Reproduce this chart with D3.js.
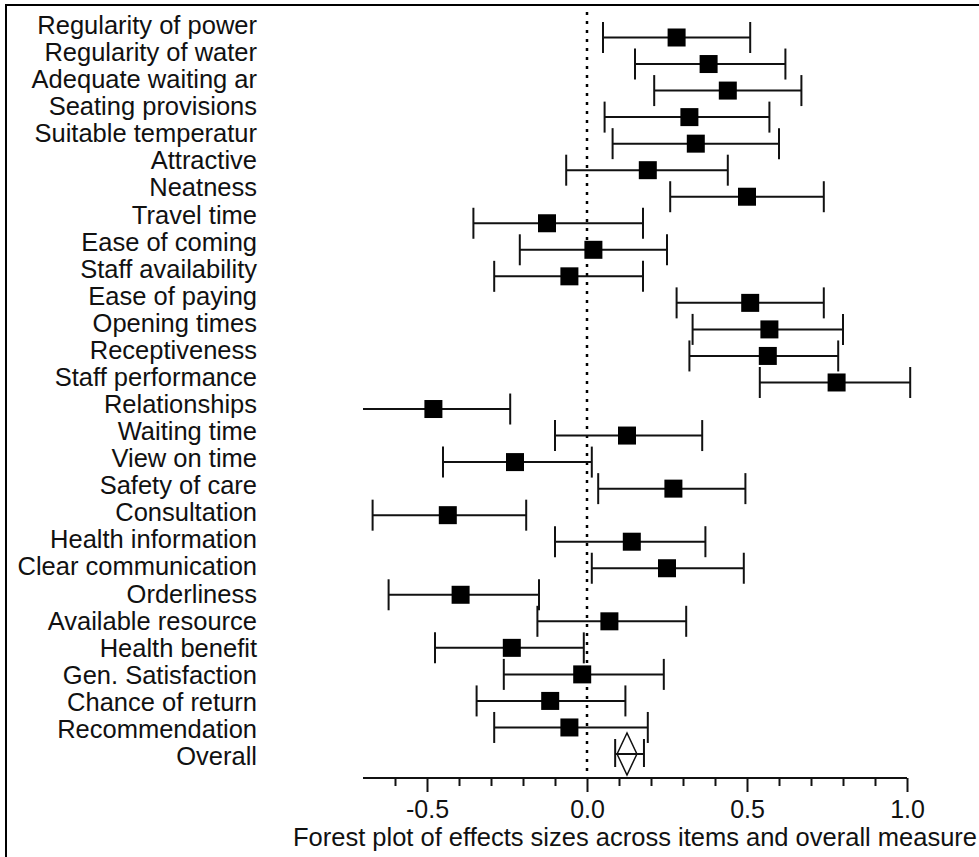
<!DOCTYPE html>
<html lang="en">
<head>
    <meta charset="UTF-8">
    <title>Forest plot</title>
    <script src="https://d3js.org/d3.v7.min.js"></script>
    <style>
        body {
            margin: 0;
            background: #fff;
        }
        svg {
            display: block;
        }
    </style>
</head>
<body>
    <div id="chart"></div>

    <script>
        // item labels, top to bottom
        const items = [
            "Regularity of power", "Regularity of water", "Adequate waiting ar",
            "Seating provisions", "Suitable temperatur", "Attractive", "Neatness",
            "Travel time", "Ease of coming", "Staff availability", "Ease of paying",
            "Opening times", "Receptiveness", "Staff performance", "Relationships",
            "Waiting time", "View on time", "Safety of care", "Consultation",
            "Health information", "Clear communication", "Orderliness",
            "Available resource", "Health benefit", "Gen. Satisfaction",
            "Chance of return", "Recommendation"
        ];
        // effect sizes and confidence limits
        const effect = [0.28, 0.38, 0.44, 0.32, 0.34, 0.19, 0.50, -0.125, 0.02, -0.055, 0.51,
            0.57, 0.565, 0.78, -0.48, 0.125, -0.225, 0.27, -0.435, 0.14, 0.25, -0.395,
            0.07, -0.235, -0.015, -0.115, -0.055];
        const lower = [0.05, 0.15, 0.21, 0.055, 0.08, -0.065, 0.26, -0.355, -0.21, -0.29, 0.28,
            0.33, 0.32, 0.54, -0.72, -0.10, -0.45, 0.035, -0.67, -0.10, 0.015, -0.62,
            -0.155, -0.475, -0.26, -0.345, -0.29];
        const upper = [0.51, 0.62, 0.67, 0.57, 0.60, 0.44, 0.74, 0.175, 0.25, 0.175, 0.74,
            0.80, 0.785, 1.01, -0.24, 0.36, 0.015, 0.495, -0.19, 0.37, 0.49, -0.15,
            0.31, -0.01, 0.24, 0.12, 0.19];

        // overall measure
        const overallLabel = "Overall";
        const overallEffect = 0.125;
        const overallDiamond = [0.094, 0.156];
        const overallCI = [0.088, 0.178];

        const majorTicks = [-0.5, 0.0, 0.5, 1.0];
        const minorTicks = [-0.6, -0.4, -0.3, -0.2, -0.1, 0.1, 0.2, 0.3, 0.4, 0.6, 0.7, 0.8, 0.9];
        const xTitle = "Forest plot of effects sizes across items and overall measure";

        const width = 979;
        const height = 857;
        const nRows = items.length + 1;

        const svg = d3.select("#chart").append("svg")
            .attr("width", width)
            .attr("height", height);

        const x = d3.scaleLinear().domain([-0.7, 1.0]).range([363, 907]);
        const y = d3.scaleLinear().domain([0, nRows - 1]).range([37.5, 754]);
        const yLabel = d3.scaleLinear().domain([0, nRows - 1]).range([34, 765]);

        const font = "'Liberation Sans', Arial, sans-serif";

        // frame
        svg.append("rect")
            .attr("x", 6).attr("y", 5)
            .attr("width", 1000).attr("height", 900)
            .attr("fill", "none")
            .attr("stroke", "#000")
            .attr("stroke-width", 2);

        // row labels
        svg.append("g")
            .selectAll("text")
            .data(items.concat([overallLabel]))
            .enter().append("text")
            .attr("x", 257)
            .attr("y", (d, i) => yLabel(i))
            .attr("text-anchor", "end")
            .style("font-family", font)
            .style("font-size", "25.5px")
            .attr("fill", "#111")
            .text(d => d);

        // null line
        svg.append("line")
            .attr("x1", x(0)).attr("x2", x(0))
            .attr("y1", 12).attr("y2", 778)
            .attr("stroke", "#000")
            .attr("stroke-width", 2.5)
            .attr("stroke-dasharray", "3,6");

        // error bars
        const rows = items.map((d, i) => ({ i, est: effect[i], lo: lower[i], hi: upper[i] }));
        const xMin = x.domain()[0];

        const bars = svg.append("g")
            .attr("stroke", "#111")
            .attr("stroke-width", 2);

        bars.selectAll("line.ci")
            .data(rows)
            .enter().append("line")
            .attr("class", "ci")
            .attr("x1", d => x(Math.max(d.lo, xMin)))
            .attr("x2", d => x(d.hi))
            .attr("y1", d => y(d.i))
            .attr("y2", d => y(d.i));

        const caps = [];
        rows.forEach(d => {
            if (d.lo >= xMin) caps.push({ i: d.i, v: d.lo });
            caps.push({ i: d.i, v: d.hi });
        });

        bars.selectAll("line.cap")
            .data(caps)
            .enter().append("line")
            .attr("class", "cap")
            .attr("x1", d => x(d.v)).attr("x2", d => x(d.v))
            .attr("y1", d => y(d.i) - 15.5)
            .attr("y2", d => y(d.i) + 15.5);

        svg.append("g")
            .selectAll("rect")
            .data(rows)
            .enter().append("rect")
            .attr("x", d => x(d.est) - 9)
            .attr("y", d => y(d.i) - 9)
            .attr("width", 18)
            .attr("height", 18)
            .attr("fill", "#000");

        // overall
        const yo = y(nRows - 1);
        const ov = svg.append("g")
            .attr("stroke", "#111")
            .attr("stroke-width", 2)
            .attr("fill", "none");
        overallCI.forEach(v => {
            ov.append("line")
                .attr("x1", x(v)).attr("x2", x(v))
                .attr("y1", yo - 15).attr("y2", yo + 13);
        });
        ov.append("path")
            .attr("stroke-width", 1.5)
            .attr("fill", "#fff")
            .attr("d", `M${x(overallDiamond[0])},${yo} L${x(overallEffect)},${yo - 21} L${x(overallDiamond[1])},${yo} L${x(overallEffect)},${yo + 21} Z`);
        ov.append("line")
            .attr("x1", x(overallCI[0])).attr("x2", x(overallCI[1]))
            .attr("y1", yo).attr("y2", yo);

        // x axis
        const axisY = 778;
        const minorAxis = svg.append("g")
            .attr("transform", `translate(0,${axisY})`)
            .call(d3.axisBottom(x).tickValues(minorTicks).tickSize(8).tickFormat(""));
        const majorAxis = svg.append("g")
            .attr("transform", `translate(0,${axisY})`)
            .call(d3.axisBottom(x).tickValues(majorTicks).tickSize(14).tickSizeOuter(0)
                .tickFormat(d => d.toFixed(1)));

        [minorAxis, majorAxis].forEach(g => {
            g.selectAll(".tick line").attr("stroke", "#111").attr("stroke-width", 2);
        });
        minorAxis.select(".domain").remove();
        majorAxis.select(".domain")
            .attr("stroke", "#111").attr("stroke-width", 2)
            .attr("d", `M${x.range()[0]},0H${x.range()[1]}`);
        majorAxis.selectAll(".tick text")
            .attr("y", 40)
            .attr("dy", 0)
            .attr("fill", "#111")
            .style("font-family", font)
            .style("font-size", "25px");

        svg.append("text")
            .attr("x", (x.range()[0] + x.range()[1]) / 2)
            .attr("y", 846)
            .attr("text-anchor", "middle")
            .style("font-family", font)
            .style("font-size", "25.5px")
            .attr("fill", "#111")
            .text(xTitle);
    </script>
</body>
</html>
